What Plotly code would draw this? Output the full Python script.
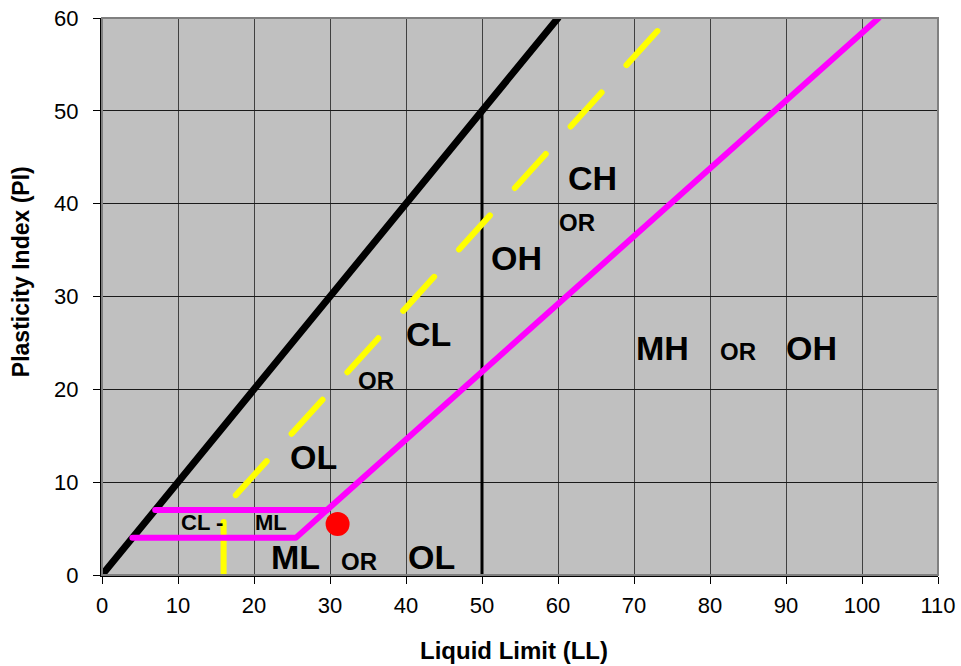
import plotly.graph_objects as go

# Casagrande plasticity chart: liquid limit (LL) vs plasticity index (PI)

# PI = LL limit line
limit_ll = [0, 60]
limit_pi = [0, 60]

# LL = 50 divider
ll50_ll = [50, 50]
ll50_pi = [0, 50]

# U-line (dashed) and its vertical foot at LL = 16
u_ll = [17.6, 73.2]
u_pi = [8.6, 58.7]
u_foot_ll = [16, 16]
u_foot_pi = [0, 5.7]

# A-line with the CL-ML band boundaries
a_ll = [4, 25.5, 29.6, 102.2]
a_pi = [4, 4, 7, 60]
band_ll = [7, 29.6]
band_pi = [7, 7]

# Sample point
sample_ll = [31]
sample_pi = [5.5]

# Zone labels: text, LL, PI, font size
zone_text = ["CH", "OR", "OH", "CL", "OR", "OL", "MH", "OR", "OH",
             "ML", "OR", "OL", "CL -", "ML"]
zone_ll = [64.6, 62.5, 54.5, 43.0, 36.1, 27.8, 73.8, 83.7, 93.4,
           25.5, 33.8, 43.3, 13.1, 22.2]
zone_pi = [42.8, 38.0, 34.1, 26.0, 21.0, 12.7, 24.5, 24.1, 24.5,
           1.9, 1.5, 1.9, 5.7, 5.7]
zone_size = [34, 24, 34, 34, 24, 34, 34, 24, 34,
             34, 24, 34, 22, 22]

x_ticks = list(range(0, 111, 10))
y_ticks = list(range(0, 61, 10))

FONT = "Liberation Sans, Arial, sans-serif"

fig = go.Figure()

fig.add_trace(go.Scatter(x=limit_ll, y=limit_pi, mode="lines",
                         line=dict(color="#000000", width=7)))
fig.add_trace(go.Scatter(x=ll50_ll, y=ll50_pi, mode="lines",
                         line=dict(color="#000000", width=3)))
fig.add_trace(go.Scatter(x=u_ll, y=u_pi, mode="lines",
                         line=dict(color="#FFFF00", width=6, dash="46px,37px")))
fig.add_trace(go.Scatter(x=u_foot_ll, y=u_foot_pi, mode="lines",
                         line=dict(color="#FFFF00", width=6)))
fig.add_trace(go.Scatter(x=a_ll, y=a_pi, mode="lines",
                         line=dict(color="#FF00FF", width=6)))
fig.add_trace(go.Scatter(x=band_ll, y=band_pi, mode="lines",
                         line=dict(color="#FF00FF", width=6)))
fig.add_trace(go.Scatter(x=sample_ll, y=sample_pi, mode="markers",
                         marker=dict(color="#FF0000", size=24, line=dict(width=0))))

for t, xx, yy, s in zip(zone_text, zone_ll, zone_pi, zone_size):
    fig.add_annotation(x=xx, y=yy, xref="x", yref="y", text="<b>%s</b>" % t,
                       showarrow=False, xanchor="center", yanchor="middle",
                       font=dict(family=FONT, size=s, color="#000000"))

# axis titles
fig.add_annotation(x=0.4925, y=-0.135, xref="paper", yref="paper",
                   text="<b>Liquid Limit (LL)</b>", showarrow=False,
                   xanchor="center", yanchor="middle",
                   font=dict(family=FONT, size=24, color="#000000"))
fig.add_annotation(x=-0.096, y=0.545, xref="paper", yref="paper",
                   text="<b>Plasticity Index (PI)</b>", showarrow=False,
                   textangle=-90, xanchor="center", yanchor="middle",
                   font=dict(family=FONT, size=23, color="#000000"))

# gray frame on the top and right sides
fig.add_shape(type="rect", xref="paper", yref="paper", x0=0, y0=0, x1=1, y1=1,
              line=dict(color="#808080", width=2), layer="above")

fig.update_layout(
    width=961, height=666,
    margin=dict(l=102, r=23, t=18, b=91, autoexpand=False),
    paper_bgcolor="#FFFFFF",
    plot_bgcolor="#C0C0C0",
    showlegend=False,
    hovermode=False,
    font=dict(family=FONT, color="#000000"),
)
fig.update_xaxes(
    range=[0, 110], tickvals=x_ticks, ticktext=[str(v) for v in x_ticks],
    showgrid=True, gridcolor="#404040", gridwidth=1,
    showline=True, linecolor="#000000", linewidth=2, mirror=False,
    ticks="outside", ticklen=7, tickcolor="#000000", tickwidth=1,
    ticklabelstandoff=3,
    tickfont=dict(family=FONT, size=22, color="#000000"),
    automargin=False, zeroline=False, fixedrange=True,
)
fig.update_yaxes(
    range=[0, 60], tickvals=y_ticks, ticktext=[str(v) for v in y_ticks],
    showgrid=True, gridcolor="#1a1a1a", gridwidth=1,
    showline=True, linecolor="#000000", linewidth=2, mirror=False,
    ticks="outside", ticklen=7, tickcolor="#000000", tickwidth=1,
    ticklabelstandoff=10,
    tickfont=dict(family=FONT, size=22, color="#000000"),
    automargin=False, zeroline=False, fixedrange=True,
)

# rounded line ends and joins
post = """
document.querySelectorAll('.scatterlayer path.js-line').forEach(function(p){
  p.style.strokeLinecap = 'round';
  p.style.strokeLinejoin = 'round';
});
"""

fig.write_html("out.html", post_script=post, config={"displayModeBar": False})
